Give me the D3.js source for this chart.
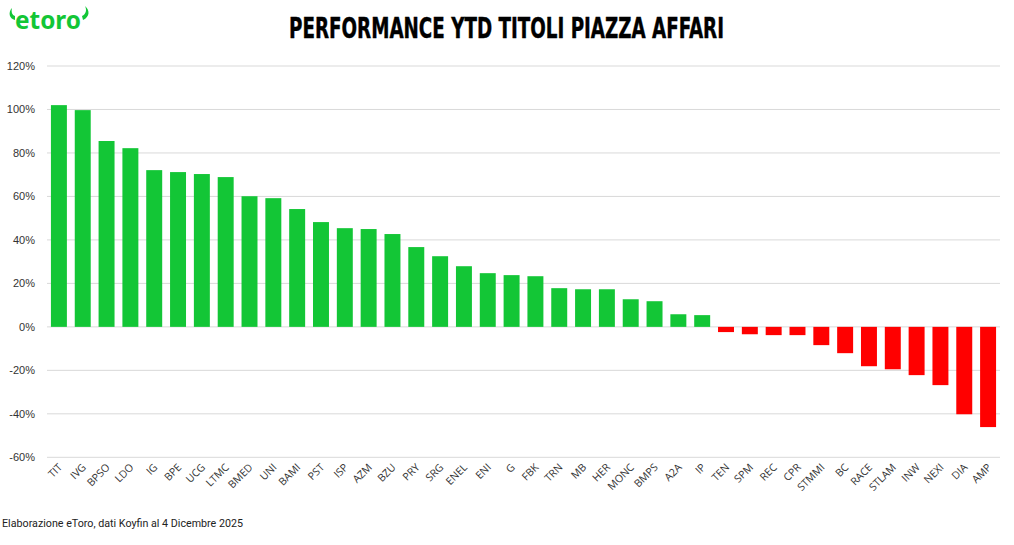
<!DOCTYPE html>
<html>
<head>
<meta charset="utf-8">
<script src="https://cdn.jsdelivr.net/npm/d3@7"></script>
<style>
	body { margin: 0; background: #fff; }
	svg { display: block; }
</style>
</head>
<body>
<script>
// data (YTD %, 4 Dec 2025)
const tickers = ["TIT", "IVG", "BPSO", "LDO", "IG", "BPE", "UCG", "LTMC", "BMED", "UNI",
	"BAMI", "PST", "ISP", "AZM", "BZU", "PRY", "SRG", "ENEL", "ENI", "G",
	"FBK", "TRN", "MB", "HER", "MONC", "BMPS", "A2A", "IP", "TEN", "SPM",
	"REC", "CPR", "STMMI", "BC", "RACE", "STLAM", "INW", "NEXI", "DIA", "AMP"];
const ytd = [102.0, 99.7, 85.5, 82.2, 72.1, 71.2, 70.3, 68.9, 60.1, 59.2,
	54.2, 48.2, 45.4, 45.0, 42.7, 36.7, 32.5, 27.9, 24.7, 23.8,
	23.3, 17.8, 17.3, 17.3, 12.7, 11.8, 5.8, 5.4, -2.4, -3.4,
	-3.8, -3.8, -8.4, -12.1, -18.1, -19.5, -22.2, -26.8, -40.2, -46.1];
const yTicks = [-60, -40, -20, 0, 20, 40, 60, 80, 100, 120];

const width = 1014;
const height = 545;
const margin = { left: 47, right: 14, top: 66, bottom: 88 };

const data = tickers.map((t, i) => ({ ticker: t, value: ytd[i] }));

const svg = d3.select("body")
	.append("svg")
	.attr("width", width)
	.attr("height", height)
	.attr("viewBox", `0 0 ${width} ${height}`);

const x = d3.scaleBand()
	.domain(tickers)
	.range([margin.left, width - margin.right])
	.paddingInner(0.33)
	.paddingOuter(0.165);

const y = d3.scaleLinear()
	.domain([-60, 120])
	.range([height - margin.bottom + 0.3, margin.top]);

// gridlines
svg.append("g")
	.selectAll("line")
	.data(yTicks)
	.join("line")
	.attr("x1", margin.left)
	.attr("x2", width - margin.right)
	.attr("y1", (d) => y(d))
	.attr("y2", (d) => y(d))
	.attr("stroke", "#d9d9d9")
	.attr("stroke-width", 1);

// y labels
svg.append("g")
	.selectAll("text")
	.data(yTicks)
	.join("text")
	.attr("x", 35)
	.attr("y", (d) => y(d))
	.attr("dy", "0.35em")
	.attr("text-anchor", "end")
	.attr("font-family", "'Liberation Sans', Arial, sans-serif")
	.attr("font-size", 11)
	.attr("fill", "#333")
	.text((d) => d + "%");

// bars
svg.append("g")
	.selectAll("rect")
	.data(data)
	.join("rect")
	.attr("x", (d) => x(d.ticker))
	.attr("width", x.bandwidth())
	.attr("y", (d) => y(Math.max(0, d.value)))
	.attr("height", (d) => Math.abs(y(d.value) - y(0)))
	.attr("fill", (d) => (d.value >= 0 ? "#13c636" : "#ff0000"));

// x labels, rotated like excel
svg.append("g")
	.selectAll("text")
	.data(tickers)
	.join("text")
	.attr("transform", (d) => `translate(${x(d) + x.bandwidth() / 2 + 4}, 468) rotate(-45)`)
	.attr("text-anchor", "end")
	.attr("font-family", "'Open Sans', sans-serif")
	.attr("font-size", 10.5)
	.attr("fill", "#333")
	.text((d) => d);

// title
svg.append("text")
	.attr("x", 289)
	.attr("y", 38)
	.attr("textLength", 435)
	.attr("lengthAdjust", "spacingAndGlyphs")
	.attr("font-family", "'Liberation Sans Narrow', 'DejaVu Sans Condensed', sans-serif")
	.attr("font-weight", "bold")
	.attr("font-size", 28)
	.attr("fill", "#000")
	.attr("stroke", "#000")
	.attr("stroke-width", 0.4)
	.text("PERFORMANCE YTD TITOLI PIAZZA AFFARI");

// footer
svg.append("text")
	.attr("x", 2)
	.attr("y", 527)
	.attr("textLength", 241)
	.attr("lengthAdjust", "spacingAndGlyphs")
	.attr("font-family", "Roboto, sans-serif")
	.attr("font-size", 11.5)
	.attr("fill", "#222")
	.text("Elaborazione eToro, dati Koyfin al 4 Dicembre 2025");

// etoro logo
const logo = svg.append("g").attr("fill", "#13c636");
logo.append("text")
	.attr("x", 15)
	.attr("y", 29)
	.attr("textLength", 66)
	.attr("lengthAdjust", "spacingAndGlyphs")
	.attr("font-family", "'Noto Sans', sans-serif")
	.attr("font-size", 25)
	.attr("font-weight", 700)
	.text("etoro");
logo.append("path")
	.attr("d", "M12,8 C8,12 9,19 15,20 L15,16 C12,15 11,12 12,8 Z");
logo.append("path")
	.attr("d", "M85,6 C90,10 90,17 83,20 L82,16 C86,14 87,10 85,6 Z");
</script>
</body>
</html>
